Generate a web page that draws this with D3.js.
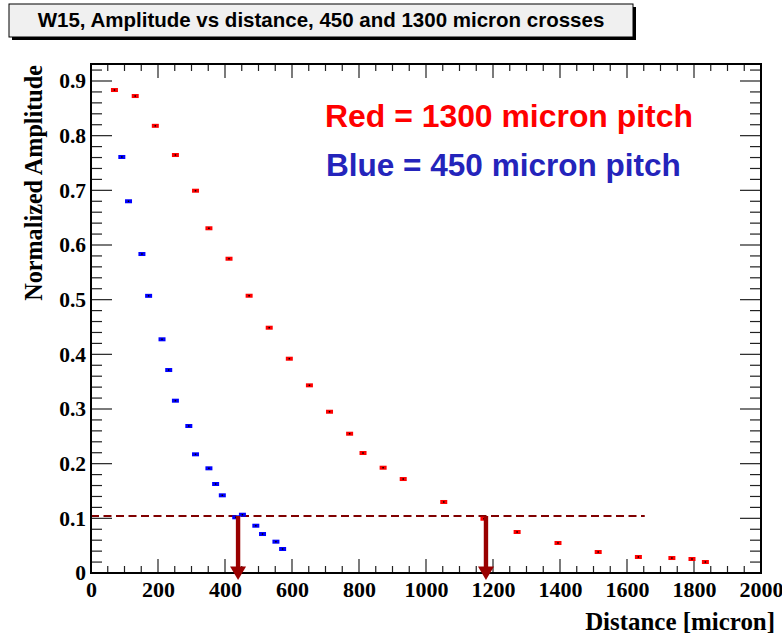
<!DOCTYPE html>
<html><head><meta charset="utf-8">
<script src="https://cdn.jsdelivr.net/npm/d3@7"></script>
<style>body{margin:0;background:#fff}svg{display:block}</style>
</head><body>
<svg id="c" width="782" height="634"></svg>
<script>
const redX = [70,132,192,252,312,352,412,472,532,592,652,712,772,812,872,932,1053,1173,1272,1394,1514,1634,1734,1794,1834];
const redY = [0.8835,0.8725,0.818,0.7646,0.6993,0.6306,0.5749,0.5072,0.4487,0.392,0.3433,0.295,0.2548,0.2195,0.1926,0.1719,0.1299,0.0993,0.075,0.0549,0.0384,0.0293,0.0274,0.0256,0.0201];
const blueX = [92,112,152,172,212,232,252,292,312,352,372,392,432,452,492,512,552,572];
const blueY = [0.761,0.680,0.5835,0.507,0.4275,0.3713,0.3152,0.2689,0.2171,0.1915,0.1628,0.1421,0.1019,0.1066,0.0865,0.0713,0.0573,0.0439];
const xTicks = [0,200,400,600,800,1000,1200,1400,1600,1800,2000];
const yTicks = [0,0.1,0.2,0.3,0.4,0.5,0.6,0.7,0.8,0.9];
const yTickLabels = ["0","0.1","0.2","0.3","0.4","0.5","0.6","0.7","0.8","0.9"];
const threshold = 0.1043, thresholdEnd = 1653;
const arrowX = [439, 1179];
const titleText = "W15, Amplitude vs distance, 450 and 1300 micron crosses";
const legendRed = "Red = 1300 micron pitch", legendBlue = "Blue = 450 micron pitch";

const svg = d3.select("#c");
const L=91, R=761, T=64, B=573;
const x = d3.scaleLinear().domain([0,2000]).range([L,R]);
const y = d3.scaleLinear().domain([0,0.9]).range([B,81]);

function fitW(t, w){const fs=+t.attr("font-size"); const c=t.node().getComputedTextLength(); t.attr("font-size",fs*w/c);}

// title box
svg.append("rect").attr("x",12).attr("y",7).attr("width",624).attr("height",33).attr("fill","#000");
svg.append("rect").attr("x",9).attr("y",4).attr("width",624).attr("height",33).attr("fill","#f0f0f0").attr("stroke","#000").attr("stroke-width",1);
const tt = svg.append("text").attr("x",321).attr("y",26.5).attr("text-anchor","middle")
  .attr("font-family","Liberation Sans, Arial, sans-serif").attr("font-weight","bold").attr("font-size",17).text(titleText);
fitW(tt,567);

// axes ticks
const minorX = d3.range(0,2001,50), minorY = d3.range(0,0.921,0.02).map(v=>+v.toFixed(2));
function isMajorX(v){return v%200===0;}
function isMajorY(v){return Math.abs(v*10-Math.round(v*10))<1e-6;}
const g = svg.append("g").attr("stroke","#222").attr("stroke-width",1.2);
minorX.forEach(v=>{
  const len = isMajorX(v)?14:7;
  g.append("line").attr("x1",x(v)).attr("x2",x(v)).attr("y1",B).attr("y2",B-len);
  g.append("line").attr("x1",x(v)).attr("x2",x(v)).attr("y1",T).attr("y2",T+len);
});
minorY.forEach(v=>{
  const len = isMajorY(v)?21:11;
  g.append("line").attr("y1",y(v)).attr("y2",y(v)).attr("x1",L).attr("x2",L+len);
  g.append("line").attr("y1",y(v)).attr("y2",y(v)).attr("x1",R).attr("x2",R-len);
});

// tick labels via axes
const ax = svg.append("g").attr("transform",`translate(0,${B})`)
  .call(d3.axisBottom(x).tickValues(xTicks).tickSize(0).tickPadding(8).tickFormat(d3.format("d")));
ax.select(".domain").remove();
ax.selectAll("text").attr("font-family","Liberation Serif, Times New Roman, serif").attr("font-weight","bold").attr("font-size",22).attr("fill","#000");
const ay = svg.append("g").attr("transform",`translate(${L},0)`)
  .call(d3.axisLeft(y).tickValues(yTicks).tickSize(0).tickPadding(5).tickFormat((d,i)=>yTickLabels[i]));
ay.select(".domain").remove();
ay.selectAll("text").attr("font-family","Liberation Serif, Times New Roman, serif").attr("font-weight","bold").attr("font-size",21.5).attr("fill","#000");

// axis titles
const yt = svg.append("text").attr("transform","translate(42,65) rotate(-90)").attr("text-anchor","end")
  .attr("font-family","Liberation Serif, Times New Roman, serif").attr("font-weight","bold").attr("font-size",22).text("Normalized Amplitude");
fitW(yt,236);
const xt = svg.append("text").attr("x",775).attr("y",630).attr("text-anchor","end")
  .attr("font-family","Liberation Serif, Times New Roman, serif").attr("font-weight","bold").attr("font-size",22).text("Distance [micron]");
fitW(xt,190);

// threshold dashed line
svg.append("line").attr("x1",x(0)).attr("x2",x(thresholdEnd)).attr("y1",y(threshold)).attr("y2",y(threshold))
  .attr("stroke","#800000").attr("stroke-width",2).attr("stroke-dasharray","8,4.5");

// points
function drawPts(xs,ys,col){
  const gp = svg.append("g");
  xs.forEach((v,i)=>{
    gp.append("rect").attr("x",x(v)-3.5).attr("y",y(ys[i])-2).attr("width",7).attr("height",4).attr("fill",col);
    gp.append("rect").attr("x",x(v)-0.75).attr("y",y(ys[i])-0.75).attr("width",1.5).attr("height",1.5).attr("fill","#000");
  });
}
drawPts(redX,redY,"#ff0000");
drawPts(blueX,blueY,"#0000ff");

// frame
svg.append("rect").attr("x",L).attr("y",T).attr("width",R-L).attr("height",B-T).attr("fill","none").attr("stroke","#000").attr("stroke-width",2);

// arrows
arrowX.forEach(v=>{
  const cx=x(v), y0=y(threshold), tip=580, hb=566.5;
  svg.append("rect").attr("x",cx-2.2).attr("y",y0).attr("width",4.4).attr("height",hb-y0+1).attr("fill","#990000");
  svg.append("path").attr("d",`M${cx-8},${hb} L${cx+8},${hb} L${cx},${tip} Z`).attr("fill","#990000");
});

// legend texts
const lr = svg.append("text").attr("x",325).attr("y",127).attr("font-family","Liberation Sans, Arial, sans-serif").attr("font-weight","bold").attr("font-size",26).attr("fill","#ff0000").text(legendRed);
const lb = svg.append("text").attr("x",326).attr("y",176).attr("font-family","Liberation Sans, Arial, sans-serif").attr("font-weight","bold").attr("font-size",26).attr("fill","#2424bb").text(legendBlue);
fitW(lr,368); fitW(lb,355);
</script>
</body></html>
